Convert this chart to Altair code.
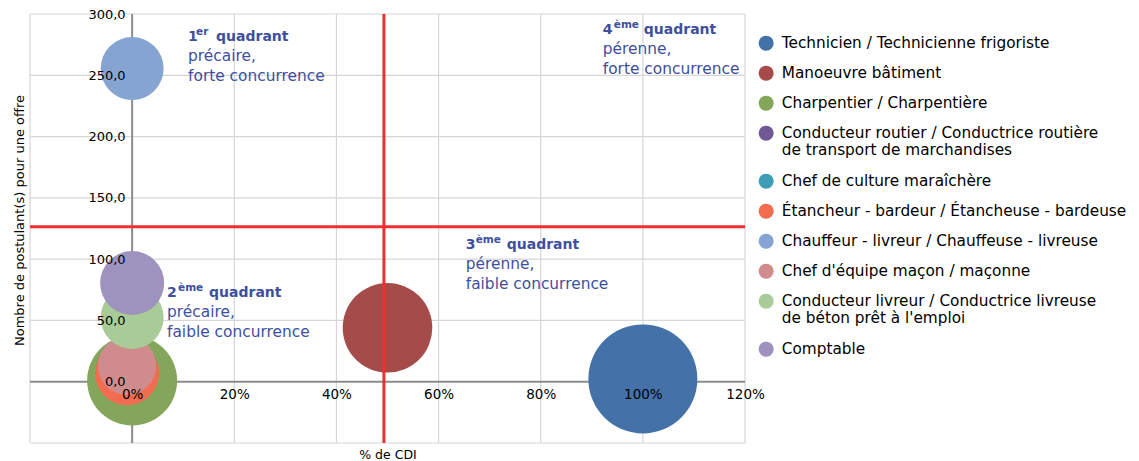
import altair as alt
import pandas as pd

# ---------------- data ----------------
metiers = [
    "Technicien / Technicienne frigoriste",
    "Manoeuvre bâtiment",
    "Charpentier / Charpentière",
    "Conducteur routier / Conductrice routière\nde transport de marchandises",
    "Chef de culture maraîchère",
    "Étancheur - bardeur / Étancheuse - bardeuse",
    "Chauffeur - livreur / Chauffeuse - livreuse",
    "Chef d'équipe maçon / maçonne",
    "Conducteur livreur / Conductrice livreuse\nde béton prêt à l'emploi",
    "Comptable",
]
pct_cdi = [100, 50, 0, -1, -1, -1, 0, -1, 0, 0]
postulants = [2.3, 44, 1, 9, 8, 7, 255.5, 13, 52.4, 80.5]
taille_bulle = [100, 67.6, 68.2, 32.4, 28.3, 34.5, 33.4, 28.7, 33.4, 34.5]
couleurs = ["#4472a8", "#a54b4a", "#84a65a", "#6f5a96", "#3e9db4",
            "#f26c4f", "#86a4d2", "#d08c8d", "#a9cb98", "#9e92be"]

x_ticks = [0, 20, 40, 60, 80, 100, 120]
y_ticks = [0, 50, 100, 150, 200, 250, 300]
x_grid = [-20, 20, 40, 60, 80, 100, 120]
y_grid = [-50, 50, 100, 150, 200, 250, 300]
seuil_cdi = [49.3]
seuil_postulants = [126.5]

quadrants = [
    {"num": "1", "sup": "er", "lignes": "précaire,\nforte concurrence", "x": 10.95, "y": 278.0, "dxs": 8, "dxw": 28},
    {"num": "2", "sup": "ème", "lignes": "précaire,\nfaible concurrence", "x": 6.83, "y": 69.1, "dxs": 11, "dxw": 42},
    {"num": "3", "sup": "ème", "lignes": "pérenne,\nfaible concurrence", "x": 65.32, "y": 108.0, "dxs": 10, "dxw": 41},
    {"num": "4", "sup": "ème", "lignes": "pérenne,\nforte concurrence", "x": 92.15, "y": 283.4, "dxs": 11, "dxw": 41},
]

FONT = "DejaVu Sans"
TXT = "#3e4f9e"

df = pd.DataFrame({
    "metier": metiers,
    "cdi": pct_cdi,
    "post": postulants,
    "taille": taille_bulle,
    "ordre": list(range(len(metiers))),
})

xs = alt.Scale(domain=[-20, 120], nice=False, zero=False)
ys = alt.Scale(domain=[-50, 300], nice=False, zero=False)

x_axis = alt.Axis(
    values=x_ticks, labelExpr="datum.value + '%'", grid=False, domain=False, ticks=False,
    offset=-61.29, labelPadding=6, labelFontSize=13.5, labelColor="#000", labelFont=FONT,
    labelFlush=False, labelOverlap=False,
    title="% de CDI", titleFontSize=12.5, titleFontWeight="normal", titleColor="#000", titleFont=FONT,
    titleY=77, titleBaseline="alphabetic", zindex=1,
)
y_axis = alt.Axis(
    values=y_ticks, labelExpr="replace(format(datum.value, '.1f'), '.', ',')", grid=False,
    domain=False, ticks=False, offset=-102.14, labelPadding=7, labelFontSize=13,
    labelColor="#000", labelFont=FONT, labelOverlap=False,
    title="Nombre de postulant(s) pour une offre", titleFontSize=13, titleFontWeight="normal",
    titleColor="#000", titleFont=FONT, titleX=-109, titleY=206, titleBaseline="alphabetic", zindex=1,
)

def vx(field):
    return alt.X(field, type="quantitative", scale=xs, axis=x_axis)

def vy(field):
    return alt.Y(field, type="quantitative", scale=ys, axis=y_axis)

grid_v = alt.Chart(pd.DataFrame({"v": x_grid})).mark_rule(color="#d6d6d6", strokeWidth=1.2).encode(x=vx("v"))
grid_h = alt.Chart(pd.DataFrame({"v": y_grid})).mark_rule(color="#d6d6d6", strokeWidth=1.2).encode(y=vy("v"))
zero_v = alt.Chart(pd.DataFrame({"v": [0]})).mark_rule(color="#8c8c8c", strokeWidth=2).encode(x=vx("v"))
zero_h = alt.Chart(pd.DataFrame({"v": [0]})).mark_rule(color="#8c8c8c", strokeWidth=2).encode(y=vy("v"))

bulles = alt.Chart(df).mark_circle(opacity=1, strokeWidth=0).encode(
    x=vx("cdi"),
    y=vy("post"),
    size=alt.Size("taille:Q", scale=alt.Scale(domain=[0, 100], range=[0, 11881]), legend=None),
    color=alt.Color(
        "metier:N",
        scale=alt.Scale(domain=metiers, range=couleurs),
        legend=alt.Legend(
            title=None, orient="none", legendX=728.5, legendY=21.5, symbolType="circle",
            symbolSize=225, symbolStrokeWidth=0, symbolOpacity=1, labelFontSize=15.3,
            labelFont=FONT, labelColor="#000", rowPadding=14, labelOffset=8, labelLimit=500,
            padding=0, labelExpr="split(datum.label, '\\n')",
        ),
    ),
    order=alt.Order("ordre:Q"),
)

rouge_v = alt.Chart(pd.DataFrame({"v": seuil_cdi})).mark_rule(color="#ee3030", strokeWidth=3).encode(x=vx("v"))
rouge_h = alt.Chart(pd.DataFrame({"v": seuil_postulants})).mark_rule(color="#ee3030", strokeWidth=3).encode(y=vy("v"))

textes = []
for q in quadrants:
    d = pd.DataFrame([q])
    base = alt.Chart(d)
    textes.append(base.mark_text(align="left", baseline="alphabetic", font=FONT, fontSize=14,
                                 fontWeight="bold", color=TXT).encode(x=vx("x"), y=vy("y"), text="num:N"))
    textes.append(base.mark_text(align="left", baseline="alphabetic", font=FONT, fontSize=10.5,
                                 fontWeight="bold", color=TXT, dx=q["dxs"], dy=-6).encode(
        x=vx("x"), y=vy("y"), text="sup:N"))
    textes.append(base.mark_text(align="left", baseline="alphabetic", font=FONT, fontSize=14,
                                 fontWeight="bold", color=TXT, dx=q["dxw"]).encode(
        x=vx("x"), y=vy("y"), text=alt.value("quadrant")))
    textes.append(base.mark_text(align="left", baseline="alphabetic", font=FONT, fontSize=15.4,
                                 color=TXT, dy=20, lineBreak="\n", lineHeight=20).encode(
        x=vx("x"), y=vy("y"), text="lignes:N"))

chart = alt.layer(grid_v, grid_h, zero_v, zero_h, bulles, rouge_v, rouge_h, *textes).properties(
    width=715, height=429,
    padding={"left": 22, "top": 6, "right": 386, "bottom": 18},
    autosize=alt.AutoSizeParams(type="none"),
    background="white",
).configure(font=FONT).configure_view(stroke=None)

chart.save("out.html", embed_options={"renderer": "svg", "actions": False})
